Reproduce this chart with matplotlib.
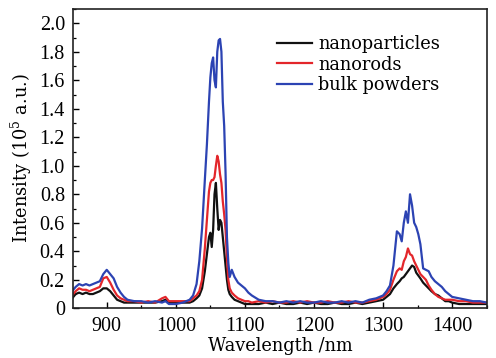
import matplotlib
matplotlib.use("Agg")
import matplotlib.pyplot as plt
from matplotlib.ticker import MultipleLocator, FixedLocator

plt.rcParams['mathtext.fontset'] = 'dejavuserif'

wavelength = [
    850, 855, 860, 865, 870, 875, 880, 885, 890, 895, 900, 905, 910, 915, 920, 925, 930,
    940, 950, 960, 970, 980, 985, 990, 1000, 1010, 1020, 1025, 1030,
    1034, 1038, 1042, 1045, 1048, 1050, 1052, 1054, 1056, 1058, 1060, 1062, 1064, 1066, 1068, 1070, 1072, 1074, 1076, 1078,
    1081, 1085, 1090, 1095, 1100, 1105, 1110,
    1120, 1130, 1140, 1150, 1160, 1170, 1180, 1190, 1200, 1210, 1220, 1230, 1240, 1250, 1260, 1270, 1280, 1290, 1300,
    1305, 1310, 1315, 1320, 1324, 1327, 1330, 1333, 1336, 1339, 1342, 1345, 1348, 1351, 1354, 1358, 1362, 1366, 1370, 1375, 1380,
    1385, 1390, 1395, 1400, 1410, 1420, 1430, 1440, 1450,
]

nanoparticles = [
    0.07, 0.10, 0.11, 0.10, 0.11, 0.10, 0.10, 0.11, 0.12, 0.14, 0.14, 0.12, 0.09, 0.06, 0.05, 0.04, 0.04,
    0.04, 0.04, 0.04, 0.04, 0.05, 0.06, 0.04, 0.04, 0.04, 0.04, 0.05, 0.07,
    0.09, 0.14, 0.26, 0.38, 0.50, 0.53, 0.43, 0.55, 0.80, 0.88, 0.70, 0.55, 0.62, 0.60, 0.50, 0.40, 0.30, 0.20, 0.13, 0.10,
    0.08, 0.06, 0.05, 0.04, 0.03, 0.03, 0.03,
    0.03, 0.04, 0.03, 0.04, 0.03, 0.03, 0.04, 0.03, 0.04, 0.03, 0.03, 0.04, 0.03, 0.03, 0.04, 0.03, 0.04, 0.05, 0.06,
    0.08, 0.10, 0.14, 0.17, 0.19, 0.21, 0.22, 0.24, 0.26, 0.28, 0.30, 0.29, 0.25, 0.23, 0.21, 0.18, 0.16, 0.14, 0.12, 0.10, 0.09,
    0.07, 0.05, 0.05, 0.04, 0.03, 0.03, 0.03, 0.03, 0.03,
]

nanorods = [
    0.09, 0.12, 0.14, 0.13, 0.13, 0.12, 0.13, 0.14, 0.15, 0.21, 0.22, 0.18, 0.13, 0.09, 0.07, 0.06, 0.05,
    0.05, 0.04, 0.05, 0.04, 0.07, 0.08, 0.05, 0.05, 0.05, 0.05, 0.07, 0.09,
    0.12, 0.20, 0.42, 0.62, 0.82, 0.88, 0.90, 0.90, 0.92, 1.00, 1.07, 1.03, 0.94, 0.88, 0.75, 0.66, 0.55, 0.35, 0.20, 0.14,
    0.11, 0.09, 0.07, 0.06, 0.05, 0.05, 0.04,
    0.05, 0.04, 0.05, 0.04, 0.04, 0.05, 0.04, 0.05, 0.04, 0.04, 0.05, 0.04, 0.04, 0.05, 0.04, 0.04, 0.05, 0.06, 0.08,
    0.10, 0.13, 0.20, 0.26, 0.28, 0.27, 0.33, 0.36, 0.42, 0.38, 0.37, 0.33, 0.30, 0.27, 0.24, 0.22, 0.20, 0.16, 0.13, 0.10, 0.08,
    0.07, 0.06, 0.06, 0.06, 0.05, 0.05, 0.04, 0.04, 0.04,
]

bulk_powders = [
    0.12, 0.15, 0.17, 0.16, 0.17, 0.16, 0.17, 0.18, 0.19, 0.24, 0.27, 0.24, 0.21, 0.15, 0.11, 0.08, 0.06,
    0.05, 0.05, 0.04, 0.05, 0.04, 0.05, 0.03, 0.03, 0.04, 0.06, 0.09, 0.17,
    0.33, 0.56, 0.90, 1.15, 1.45, 1.62, 1.72, 1.76, 1.60, 1.55, 1.80, 1.88, 1.89, 1.80, 1.45, 1.28, 0.95, 0.50, 0.32, 0.22,
    0.27, 0.22, 0.18, 0.16, 0.14, 0.11, 0.09,
    0.06, 0.05, 0.05, 0.04, 0.05, 0.04, 0.05, 0.04, 0.04, 0.05, 0.04, 0.04, 0.05, 0.04, 0.05, 0.04, 0.06, 0.07, 0.09,
    0.12, 0.16, 0.30, 0.54, 0.52, 0.47, 0.60, 0.68, 0.60, 0.80, 0.72, 0.60, 0.57, 0.52, 0.45, 0.28, 0.27, 0.26, 0.22, 0.19, 0.17,
    0.15, 0.12, 0.10, 0.08, 0.07, 0.06, 0.05, 0.05, 0.04,
]

series_labels = ["nanoparticles", "nanorods", "bulk powders"]
series_colors = ["#111111", "#e3262b", "#2c43b3"]

x_ticks = [900, 1000, 1100, 1200, 1300, 1400]
y_ticks = [0, 0.2, 0.4, 0.6, 0.8, 1.0, 1.2, 1.4, 1.6, 1.8, 2.0]
y_tick_labels = ["0", "0.2", "0.4", "0.6", "0.8", "1.0", "1.2", "1.4", "1.6", "1.8", "2.0"]

fig = plt.figure(figsize=(4.96, 3.58), dpi=100)
ax = fig.add_axes([73.3 / 496, 1 - 308.3 / 358, (486.7 - 73.3) / 496, (308.3 - 9) / 358])

for ys, lab, col in zip([nanoparticles, nanorods, bulk_powders], series_labels, series_colors):
    ax.plot(wavelength, ys, color=col, lw=1.6, label=lab)

ax.set_xlim(851.6, 1450)
ax.set_ylim(0, 2.1)
ax.xaxis.set_major_locator(FixedLocator(x_ticks))
ax.xaxis.set_minor_locator(MultipleLocator(50))
ax.set_yticks(y_ticks)
ax.set_yticklabels(y_tick_labels)
ax.yaxis.set_minor_locator(MultipleLocator(0.1))

ax.tick_params(which="major", direction="in", length=4.5, width=1.0, top=False, right=False, pad=6)
ax.tick_params(which="minor", direction="in", length=2.5, width=0.9, top=False, right=False)
for lbl in ax.get_xticklabels() + ax.get_yticklabels():
    lbl.set_fontfamily("Liberation Serif")
    lbl.set_fontsize(14.5)

for sp in ax.spines.values():
    sp.set_linewidth(1.2)
    sp.set_color("#222222")

ax.set_xlabel("Wavelength /nm", family="DejaVu Serif", fontsize=12.8, labelpad=1)
ax.set_ylabel("Intensity (10$^5$ a.u.)", family="DejaVu Serif", fontsize=12.8, labelpad=4)

leg = ax.legend(loc="upper left", bbox_to_anchor=(277.3 / 496, 1 - 35.2 / 358),
                bbox_transform=fig.transFigure, frameon=False, borderpad=0, borderaxespad=0,
                handlelength=1.97, handletextpad=0.34, labelspacing=0.13,
                prop=dict(family="DejaVu Serif", size=12.8))
for h in leg.get_lines():
    h.set_linewidth(1.6)

fig.savefig("out.png", dpi=100)
